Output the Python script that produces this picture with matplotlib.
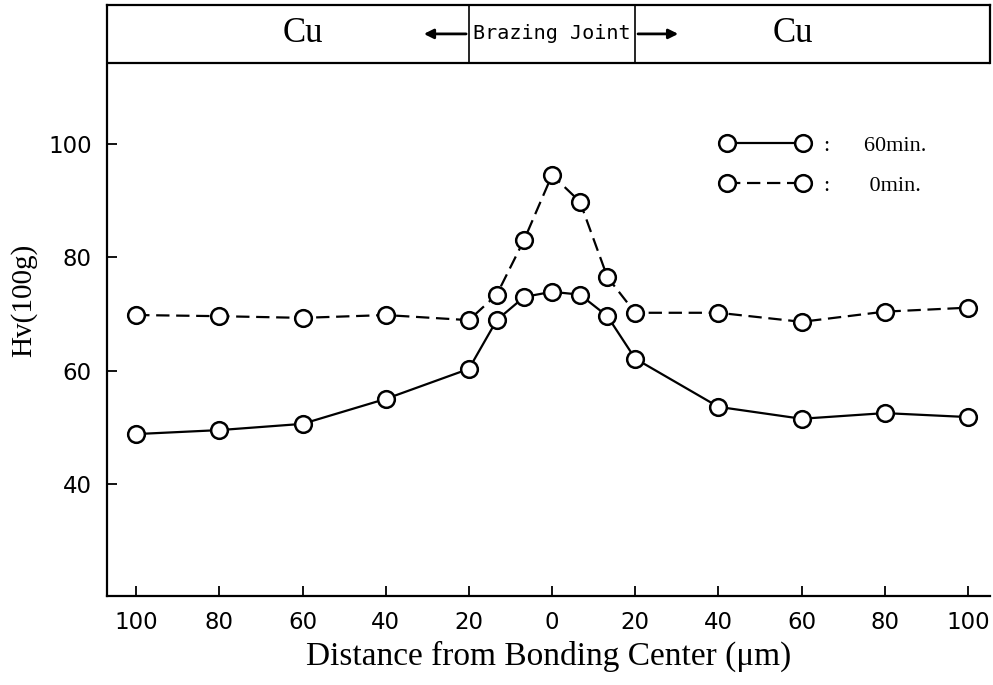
import numpy as np
import matplotlib
matplotlib.use("Agg")
import matplotlib.pyplot as plt

# Hardness profile across the brazed joint (x: signed distance from center)
dist = [-100, -80, -60, -40, -20, -13.3, -6.7, 0, 6.7, 13.3, 20, 40, 60, 80, 100]
hv_60min = [48.8, 49.5, 50.6, 55.0, 60.3, 68.9, 73.0, 73.9, 73.4, 69.6, 62.1, 53.6, 51.5, 52.5, 51.8]
hv_0min = [69.8, 69.6, 69.3, 69.8, 68.9, 73.4, 83.1, 94.5, 89.8, 76.5, 70.2, 70.2, 68.6, 70.4, 71.1]

x_ticks = np.arange(-100, 101, 20)
x_ticklabels = [str(abs(v)) for v in x_ticks]
y_ticks = [40, 60, 80, 100]

# header band: Cu | Brazing Joint | Cu
joint_half = 20
band_bottom = 114.3
band_mid = 119.4

fig = plt.figure(figsize=(9.93, 6.85), dpi=100)
ax = fig.add_axes([0.1078, 0.130, 0.8892, 0.8627])

ax.plot(dist, hv_60min, color="black", lw=1.6, marker="o", ms=12,
        mfc="white", mec="black", mew=1.8, label=":      60min.")
ax.plot(dist, hv_0min, color="black", lw=1.6, dashes=(6, 3), marker="o", ms=12,
        mfc="white", mec="black", mew=1.8, label=":       0min.")

ax.set_xlim(-107, 105.3)
ax.set_ylim(20.24, 124.5)
ax.set_xticks(x_ticks)
ax.set_xticklabels(x_ticklabels)
ax.set_yticks(y_ticks)
ax.tick_params(direction="in", length=7, width=1.3, labelsize=16.5, pad=11,
               top=False, right=False)

for side in ["left", "bottom", "top"]:
    ax.spines[side].set_linewidth(1.6)
ax.spines["right"].set_visible(False)

# header band lines
ax.axhline(band_bottom, color="black", lw=1.6)
ax.plot([-joint_half, -joint_half], [band_bottom, 124.5], color="black", lw=1.2)
ax.plot([joint_half, joint_half], [band_bottom, 124.5], color="black", lw=1.2)
ax.plot([105.3, 105.3], [band_bottom, 124.5], color="black", lw=1.6, clip_on=False)

ax.text(-60, band_mid, "Cu", ha="center", va="center", fontsize=25,
        family="Liberation Serif")
ax.text(58, band_mid, "Cu", ha="center", va="center", fontsize=25,
        family="Liberation Serif")
ax.text(0, band_mid, "Brazing Joint", ha="center", va="center", fontsize=14.5,
        family="DejaVu Sans Mono")
ax.annotate("", xy=(-31.5, band_mid), xytext=(-joint_half, band_mid),
            arrowprops=dict(arrowstyle="-|>", lw=2, color="black", mutation_scale=14))
ax.annotate("", xy=(31, band_mid), xytext=(joint_half, band_mid),
            arrowprops=dict(arrowstyle="-|>", lw=2, color="black", mutation_scale=14))

ax.set_xlabel("Distance from Bonding Center (μm)", fontsize=24,
              family="Liberation Serif", labelpad=5)
ax.set_ylabel("Hv(100g)", fontsize=21, family="Liberation Serif", labelpad=8)

ax.legend(loc="upper left", bbox_to_anchor=(0.695, 0.78), frameon=False,
          numpoints=2, handlelength=4.0, handletextpad=0.65, labelspacing=0.9,
          borderpad=0, borderaxespad=0,
          prop={"family": "Liberation Serif", "size": 16})

plt.savefig("out.png", dpi=100)
